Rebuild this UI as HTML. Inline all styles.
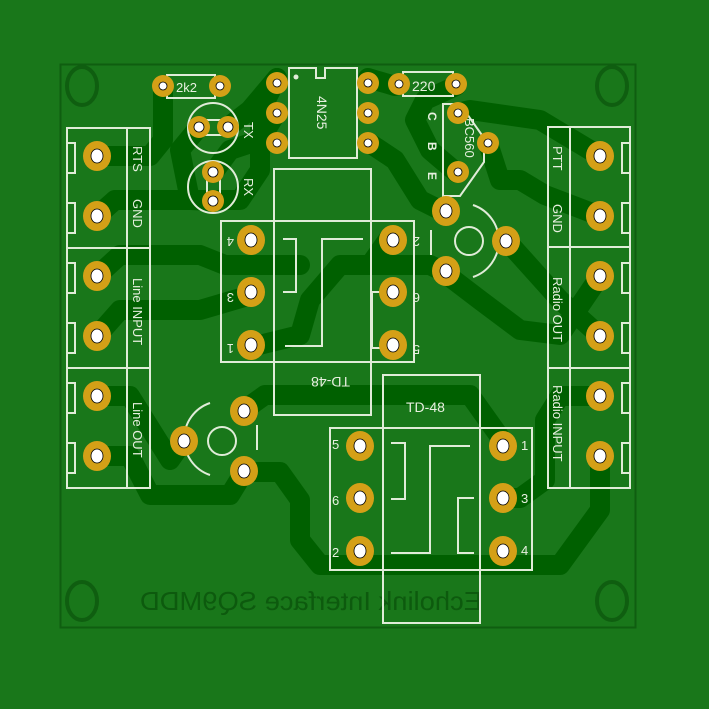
<!DOCTYPE html>
<html><head><meta charset="utf-8"><style>
html,body{margin:0;padding:0;background:#19771a;}
svg{display:block}
text{font-family:"Liberation Sans",sans-serif;fill:#e8f0e0}
</style></head><body>
<svg width="709" height="709" viewBox="0 0 709 709" xmlns="http://www.w3.org/2000/svg">
<rect width="709" height="709" fill="#19771a"/>
<rect x="60.5" y="64.5" width="575" height="563" fill="none" stroke="#0f5e10" stroke-width="2"/>
<g fill="none" stroke="#006000" stroke-width="20" stroke-linejoin="round" stroke-linecap="round">
<path d="M97,156 L150,156 L163,140 L163,86"/>
<path d="M97,216 L115,200 L240,200 L260,170 L260,112 L277,78"/>
<path d="M97,276 L120,255 L200,255 L225,265 L300,265"/>
<path d="M97,336 L120,310 L200,310 L251,295"/>
<path d="M251,347 L300,335 L310,300 L340,265 L430,265 L442,271"/>
<path d="M97,396 L130,396 L170,460 L184,440"/>
<path d="M97,456 L130,456 L150,495 L230,495 L244,472"/>
<path d="M244,472 L280,472 L300,500 L300,540 L320,565 L560,565 L600,510 L600,456"/>
<path d="M244,410 L265,395 L470,395 L502,440"/>
<path d="M600,396 L560,396 L545,420 L545,480 L520,498 L502,498"/>
<path d="M600,216 L545,195 L520,180 L500,180 L488,143"/>
<path d="M600,156 L540,120 L470,110 L457,113"/>
<path d="M368,78 L395,86"/>
<path d="M368,142 L395,160 L420,200 L442,211"/>
<path d="M457,173 L430,150 L415,120 L425,100 L456,86"/>
<path d="M507,241 L560,300 L600,336"/>
<path d="M442,271 L480,300 L520,330 L560,335 L600,276"/>
<path d="M199,127 L180,150 L190,200 L213,201"/>
<path d="M389,238 L370,265"/>
<path d="M213,173 L230,150 L260,140 L277,112"/>
<path d="M228,127 L250,110 L277,78"/>
</g>
<g fill="none" stroke="#0f5e10" stroke-width="4">
<ellipse cx="82" cy="86" rx="15" ry="19"/><ellipse cx="612" cy="86" rx="15" ry="19"/>
<ellipse cx="82" cy="601" rx="15" ry="19"/><ellipse cx="612" cy="601" rx="15" ry="19"/>
</g>
<text x="0" y="0" transform="translate(482,610) scale(-1,1)" font-size="26" style="fill:#0d5a0e" textLength="342" lengthAdjust="spacingAndGlyphs">Echolink Interface SQ9MDD</text>
<g fill="none" stroke="#e0ecd8" stroke-width="2">
<rect x="67" y="128" width="83" height="360"/><line x1="127" y1="128" x2="127" y2="488"/>
<line x1="67" y1="248" x2="150" y2="248"/><line x1="67" y1="368" x2="150" y2="368"/>
<path d="M67,143 h8 v30 h-8 M67,203 h8 v30 h-8 M67,263 h8 v30 h-8 M67,323 h8 v30 h-8 M67,383 h8 v30 h-8 M67,443 h8 v30 h-8"/>
<rect x="548" y="127" width="82" height="361"/><line x1="570" y1="127" x2="570" y2="488"/>
<line x1="548" y1="247" x2="630" y2="247"/><line x1="548" y1="368" x2="630" y2="368"/>
<path d="M630,143 h-8 v30 h8 M630,203 h-8 v30 h8 M630,263 h-8 v30 h8 M630,323 h-8 v30 h8 M630,383 h-8 v30 h8 M630,443 h-8 v30 h8"/>
<path d="M289,68 h27 v10 h9 v-10 h32 v90 h-68 z"/>
<rect x="167" y="75" width="48" height="23"/><rect x="403" y="72" width="50" height="24"/>
<path d="M443,104 h17 l24,34 v24 l-24,34 h-17 z"/>
<circle cx="213" cy="128" r="25"/><rect x="199" y="120" width="29" height="15"/>
<ellipse cx="213" cy="187" rx="25" ry="26"/><rect x="207" y="173" width="13" height="28"/>
<rect x="221" y="221" width="193" height="141"/><rect x="274" y="169" width="97" height="246"/>
<path d="M283,239 h13 v53 h-13 M363,239 h-41 v107 h-37 M384,292 h-12 v56 h12"/>
<path d="M473,205 a38,38 0 0 1 0,72 M431,230 v25"/><circle cx="469" cy="241" r="14"/>
<path d="M210,403 a38,38 0 0 0 0,72 M257,425 v25"/><circle cx="222" cy="441" r="14"/>
<rect x="330" y="428" width="202" height="142"/><rect x="383" y="375" width="97" height="248"/>
<path d="M391,443 h14 v56 h-14 M470,446 h-40 v107 h-39 M474,498 h-16 v55 h16"/>
</g>
<circle cx="296" cy="77" r="2.5" fill="#e0ecd8"/>
<g font-size="13">
<text transform="translate(133,146) rotate(90)">RTS</text>
<text transform="translate(133,199) rotate(90)">GND</text>
<text transform="translate(133,278) rotate(90)">Line INPUT</text>
<text transform="translate(133,402) rotate(90)">Line OUT</text>
<text transform="translate(553,146) rotate(90)">PTT</text>
<text transform="translate(553,204) rotate(90)">GND</text>
<text transform="translate(553,277) rotate(90)">Radio OUT</text>
<text transform="translate(553,385) rotate(90)">Radio INPUT</text>
<text x="176" y="92" font-size="13">2k2</text>
<text x="412" y="91" font-size="14">220</text>
<text transform="translate(317,96) rotate(90)" font-size="14">4N25</text>
<text transform="translate(465,118) rotate(90)" font-size="13">BC560</text>
<text transform="translate(244,122) rotate(90)" font-size="13">TX</text>
<text transform="translate(244,178) rotate(90)" font-size="13">RX</text>
<text x="406" y="412" font-size="14">TD-48</text>
<text transform="translate(350,377) rotate(180)" font-size="14">TD-48</text>
<text x="332" y="449" font-size="13">5</text><text x="332" y="505" font-size="13">6</text><text x="332" y="557" font-size="13">2</text>
<text x="521" y="450" font-size="13">1</text><text x="521" y="503" font-size="13">3</text><text x="521" y="555" font-size="13">4</text>
<text transform="translate(234,237) rotate(180)" font-size="13">4</text>
<text transform="translate(234,293) rotate(180)" font-size="13">3</text>
<text transform="translate(234,344) rotate(180)" font-size="13">1</text>
<text transform="translate(420,237) rotate(180)" font-size="13">2</text>
<text transform="translate(420,293) rotate(180)" font-size="13">6</text>
<text transform="translate(420,345) rotate(180)" font-size="13">5</text>
<text transform="translate(428,112) rotate(90)" font-size="12" font-weight="bold">C</text>
<text transform="translate(428,142) rotate(90)" font-size="12" font-weight="bold">B</text>
<text transform="translate(428,172) rotate(90)" font-size="12" font-weight="bold">E</text>
</g>
<g fill="#d4a017">
<ellipse cx="97" cy="156" rx="14" ry="15"/><ellipse cx="97" cy="216" rx="14" ry="15"/><ellipse cx="97" cy="276" rx="14" ry="15"/>
<ellipse cx="97" cy="336" rx="14" ry="15"/><ellipse cx="97" cy="396" rx="14" ry="15"/><ellipse cx="97" cy="456" rx="14" ry="15"/>
<ellipse cx="600" cy="156" rx="14" ry="15"/><ellipse cx="600" cy="216" rx="14" ry="15"/><ellipse cx="600" cy="276" rx="14" ry="15"/>
<ellipse cx="600" cy="336" rx="14" ry="15"/><ellipse cx="600" cy="396" rx="14" ry="15"/><ellipse cx="600" cy="456" rx="14" ry="15"/>
<ellipse cx="251" cy="240" rx="14" ry="15"/><ellipse cx="251" cy="292" rx="14" ry="15"/><ellipse cx="251" cy="345" rx="14" ry="15"/>
<ellipse cx="393" cy="240" rx="14" ry="15"/><ellipse cx="393" cy="292" rx="14" ry="15"/><ellipse cx="393" cy="345" rx="14" ry="15"/>
<ellipse cx="360" cy="446" rx="14" ry="15"/><ellipse cx="360" cy="498" rx="14" ry="15"/><ellipse cx="360" cy="551" rx="14" ry="15"/>
<ellipse cx="503" cy="446" rx="14" ry="15"/><ellipse cx="503" cy="498" rx="14" ry="15"/><ellipse cx="503" cy="551" rx="14" ry="15"/>
<ellipse cx="446" cy="211" rx="14" ry="15"/><ellipse cx="506" cy="241" rx="14" ry="15"/><ellipse cx="446" cy="271" rx="14" ry="15"/>
<ellipse cx="184" cy="441" rx="14" ry="15"/><ellipse cx="244" cy="411" rx="14" ry="15"/><ellipse cx="244" cy="471" rx="14" ry="15"/>
<ellipse cx="277" cy="83" rx="11" ry="11"/><ellipse cx="277" cy="113" rx="11" ry="11"/><ellipse cx="277" cy="143" rx="11" ry="11"/>
<ellipse cx="368" cy="83" rx="11" ry="11"/><ellipse cx="368" cy="113" rx="11" ry="11"/><ellipse cx="368" cy="143" rx="11" ry="11"/>
<ellipse cx="163" cy="86" rx="11" ry="11"/><ellipse cx="220" cy="86" rx="11" ry="11"/>
<ellipse cx="399" cy="84" rx="11" ry="11"/><ellipse cx="456" cy="84" rx="11" ry="11"/>
<ellipse cx="458" cy="113" rx="11" ry="11"/><ellipse cx="488" cy="143" rx="11" ry="11"/><ellipse cx="458" cy="172" rx="11" ry="11"/>
<ellipse cx="199" cy="127" rx="11" ry="11"/><ellipse cx="228" cy="127" rx="11" ry="11"/>
<ellipse cx="213" cy="172" rx="11" ry="11"/><ellipse cx="213" cy="201" rx="11" ry="11"/>
</g>
<g fill="#fff" stroke="#000" stroke-width="0.8">
<ellipse cx="97" cy="156" rx="6" ry="7"/><ellipse cx="97" cy="216" rx="6" ry="7"/><ellipse cx="97" cy="276" rx="6" ry="7"/>
<ellipse cx="97" cy="336" rx="6" ry="7"/><ellipse cx="97" cy="396" rx="6" ry="7"/><ellipse cx="97" cy="456" rx="6" ry="7"/>
<ellipse cx="600" cy="156" rx="6" ry="7"/><ellipse cx="600" cy="216" rx="6" ry="7"/><ellipse cx="600" cy="276" rx="6" ry="7"/>
<ellipse cx="600" cy="336" rx="6" ry="7"/><ellipse cx="600" cy="396" rx="6" ry="7"/><ellipse cx="600" cy="456" rx="6" ry="7"/>
<ellipse cx="251" cy="240" rx="6" ry="7"/><ellipse cx="251" cy="292" rx="6" ry="7"/><ellipse cx="251" cy="345" rx="6" ry="7"/>
<ellipse cx="393" cy="240" rx="6" ry="7"/><ellipse cx="393" cy="292" rx="6" ry="7"/><ellipse cx="393" cy="345" rx="6" ry="7"/>
<ellipse cx="360" cy="446" rx="6" ry="7"/><ellipse cx="360" cy="498" rx="6" ry="7"/><ellipse cx="360" cy="551" rx="6" ry="7"/>
<ellipse cx="503" cy="446" rx="6" ry="7"/><ellipse cx="503" cy="498" rx="6" ry="7"/><ellipse cx="503" cy="551" rx="6" ry="7"/>
<ellipse cx="446" cy="211" rx="6" ry="7"/><ellipse cx="506" cy="241" rx="6" ry="7"/><ellipse cx="446" cy="271" rx="6" ry="7"/>
<ellipse cx="184" cy="441" rx="6" ry="7"/><ellipse cx="244" cy="411" rx="6" ry="7"/><ellipse cx="244" cy="471" rx="6" ry="7"/>
<circle cx="277" cy="83" r="4"/><circle cx="277" cy="113" r="4"/><circle cx="277" cy="143" r="4"/>
<circle cx="368" cy="83" r="4"/><circle cx="368" cy="113" r="4"/><circle cx="368" cy="143" r="4"/>
<circle cx="163" cy="86" r="4"/><circle cx="220" cy="86" r="4"/><circle cx="399" cy="84" r="4"/><circle cx="456" cy="84" r="4"/>
<circle cx="458" cy="113" r="4"/><circle cx="488" cy="143" r="4"/><circle cx="458" cy="172" r="4"/>
<circle cx="199" cy="127" r="5"/><circle cx="228" cy="127" r="5"/><circle cx="213" cy="172" r="5"/><circle cx="213" cy="201" r="5"/>
</g>
</svg>
</body></html>
